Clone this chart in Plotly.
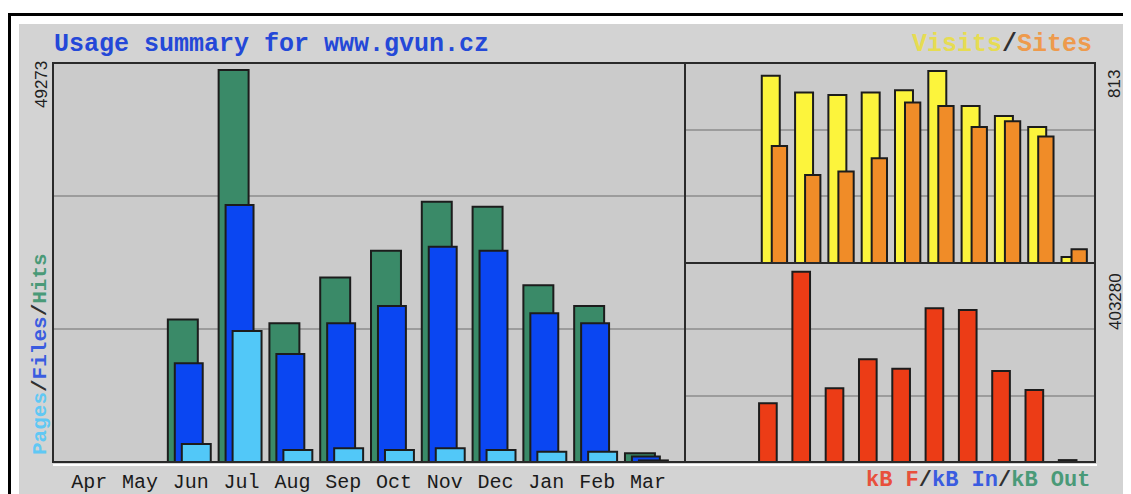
import plotly.graph_objects as go

# page is 1131x494; the html body adds an 8px margin, so the figure is drawn at (8, 8)
PAGE_OFF = 8
FW, FH = 1123, 486

# ---------------- data ----------------
months = ["Apr", "May", "Jun", "Jul", "Aug", "Sep", "Oct", "Nov", "Dec", "Jan", "Feb", "Mar"]
hits = [None, None, 17900, 49273, 17430, 23200, 26560, 32720, 32090, 22210, 19610, 1100]
files = [None, None, 12400, 32300, 13580, 17430, 19610, 27070, 26560, 18690, 17430, 700]
pages = [None, None, 2260, 16470, 1510, 1720, 1510, 1720, 1510, 1300, 1300, 200]
visits = [None, None, 793, 722, 711, 722, 732, 813, 665, 623, 576, 25]
sites = [None, None, 495, 373, 387, 444, 680, 665, 576, 600, 536, 58]
kbytes = [None, None, 124400, 403280, 156100, 217600, 197800, 325600, 322100, 192800, 152600, 4000]

max_hits = 49273
max_visits = 813
max_kb = 403280

title = "Usage summary for www.gvun.cz"

# ---------------- helpers (page pixel -> paper fraction) ----------------
def fx(px):
    return (px - PAGE_OFF) / FW


def fy(py):
    return 1 - (py - PAGE_OFF) / FH


OUT = "#1c1c1c"
C_HITS = "#3a8a68"
C_FILES = "#0a46f2"
C_PAGES = "#52c8f8"
C_VISITS = "#fcf43c"
C_SITES = "#f08c28"
C_KB = "#ec3c16"

fig = go.Figure()

fig.add_trace(go.Bar(x=months, y=hits, xaxis="x", yaxis="y", offset=-0.452, width=0.59,
                     marker=dict(color=C_HITS, line=dict(color=OUT, width=2)), name="Hits"))
fig.add_trace(go.Bar(x=months, y=files, xaxis="x", yaxis="y", offset=-0.315, width=0.55,
                     marker=dict(color=C_FILES, line=dict(color=OUT, width=2)), name="Files"))
fig.add_trace(go.Bar(x=months, y=pages, xaxis="x", yaxis="y", offset=-0.177, width=0.57,
                     marker=dict(color=C_PAGES, line=dict(color=OUT, width=2)), name="Pages"))

fig.add_trace(go.Bar(x=months, y=visits, xaxis="x2", yaxis="y2", offset=-0.375, width=0.54,
                     marker=dict(color=C_VISITS, line=dict(color=OUT, width=2)), name="Visits"))
fig.add_trace(go.Bar(x=months, y=sites, xaxis="x2", yaxis="y2", offset=-0.075, width=0.46,
                     marker=dict(color=C_SITES, line=dict(color=OUT, width=2)), name="Sites"))

fig.add_trace(go.Bar(x=months, y=kbytes, xaxis="x3", yaxis="y3", offset=-0.456, width=0.53,
                     marker=dict(color=C_KB, line=dict(color=OUT, width=2)), name="kB F"))

R1 = max_hits * 399 / 392
R2 = max_visits * 199 / 191
R3 = max_kb * 199 / 190.3

grid = dict(showgrid=True, gridcolor="#9c9c9c", gridwidth=2, zeroline=False,
            showticklabels=False, ticks="", showline=False, fixedrange=True)
xcommon = dict(type="category", showgrid=False, zeroline=False, showline=False, ticks="",
               fixedrange=True)

fig.update_layout(
    width=FW, height=FH,
    margin=dict(l=0, r=0, t=0, b=0),
    paper_bgcolor="white",
    plot_bgcolor="rgba(0,0,0,0)",
    barmode="overlay",
    showlegend=False,
    xaxis=dict(domain=[fx(53), fx(685)], range=[-0.713, 11.73], anchor="y",
               tickfont=dict(family="Liberation Mono", size=20, color="#1a1a1a"),
               ticklabelstandoff=5, **xcommon),
    yaxis=dict(domain=[fy(462), fy(63)], range=[0, R1], anchor="x",
               tickvals=[R1 / 3, 2 * R1 / 3], **grid),
    xaxis2=dict(domain=[fx(685), fx(1095)], range=[-0.68, 11.63], anchor="y2",
                showticklabels=False, **xcommon),
    yaxis2=dict(domain=[fy(263), fy(63)], range=[0, R2], anchor="x2",
                tickvals=[R2 / 3, 2 * R2 / 3], **grid),
    xaxis3=dict(domain=[fx(685), fx(1095)], range=[-0.68, 11.63], anchor="y3",
                showticklabels=False, **xcommon),
    yaxis3=dict(domain=[fy(462), fy(263)], range=[0, R3], anchor="x3",
                tickvals=[R3 / 3, 2 * R3 / 3], **grid),
)

PANEL = "#cbcbcb"
FRAME = "#d3d3d3"
BORDER = "#2a2a2a"
shapes = [
    dict(type="rect", xref="paper", yref="paper", x0=fx(9.5), y0=fy(14.5), x1=fx(1145), y1=fy(510),
         fillcolor="white", line=dict(color="black", width=3), layer="below"),
    dict(type="rect", xref="paper", yref="paper", x0=fx(19), y0=fy(24), x1=fx(1145), y1=fy(510),
         fillcolor=FRAME, line=dict(width=0), layer="below"),
    dict(type="rect", xref="paper", yref="paper", x0=fx(53), y0=fy(63), x1=fx(685), y1=fy(462),
         fillcolor=PANEL, line=dict(width=0), layer="below"),
    dict(type="rect", xref="paper", yref="paper", x0=fx(685), y0=fy(63), x1=fx(1095), y1=fy(462),
         fillcolor=PANEL, line=dict(width=0), layer="below"),
    dict(type="line", xref="paper", yref="paper", x0=fx(53), y0=fy(465), x1=fx(1097), y1=fy(465),
         line=dict(color="white", width=2), layer="below"),
    dict(type="rect", xref="paper", yref="paper", x0=fx(53), y0=fy(63), x1=fx(685), y1=fy(462),
         fillcolor="rgba(0,0,0,0)", line=dict(color=BORDER, width=2), layer="above"),
    dict(type="rect", xref="paper", yref="paper", x0=fx(685), y0=fy(63), x1=fx(1095), y1=fy(263),
         fillcolor="rgba(0,0,0,0)", line=dict(color=BORDER, width=2), layer="above"),
    dict(type="rect", xref="paper", yref="paper", x0=fx(685), y0=fy(263), x1=fx(1095), y1=fy(462),
         fillcolor="rgba(0,0,0,0)", line=dict(color=BORDER, width=2), layer="above"),
]
fig.update_layout(shapes=shapes)

BOLD = dict(family="Liberation Mono", size=25, color="#303030")
anns = [
    dict(x=fx(52), y=fy(44), xanchor="left", yanchor="middle",
         text="<b>" + title + "</b>", font=dict(family="Liberation Mono", size=25, color="#2448d8")),
    dict(x=fx(1094), y=fy(44), xanchor="right", yanchor="middle",
         text="<b><span style='color:#e6dc52'>Visits</span>/<span style='color:#ee9a4c'>Sites</span></b>",
         font=BOLD),
    dict(x=fx(1092), y=fy(480), xanchor="right", yanchor="middle",
         text="<b><span style='color:#e8503c'>kB F</span>/<span style='color:#3a5ce0'>kB In</span>/"
              "<span style='color:#4a9a78'>kB Out</span></b>",
         font=dict(family="Liberation Mono", size=22, color="#303030")),
    dict(x=fx(40), y=fy(354), xanchor="center", yanchor="middle", textangle=-90,
         text="<b><span style='color:#60c8f4'>Pages</span>/<span style='color:#3a5ce0'>Files</span>/"
              "<span style='color:#4a9a78'>Hits</span></b>",
         font=dict(family="Liberation Mono", size=21, color="#303030")),
    dict(x=fx(41), y=fy(85), xanchor="center", yanchor="middle", textangle=-90,
         text=str(max_hits), font=dict(family="Liberation Sans", size=17, color="#202020")),
    dict(x=fx(1115), y=fy(84), xanchor="center", yanchor="middle", textangle=-90,
         text=str(max_visits), font=dict(family="Liberation Sans", size=17, color="#202020")),
    dict(x=fx(1115), y=fy(302), xanchor="center", yanchor="middle", textangle=-90,
         text=str(max_kb), font=dict(family="Liberation Sans", size=17, color="#202020")),
]
for a in anns:
    a.update(xref="paper", yref="paper", showarrow=False)
fig.update_layout(annotations=anns)

fig.write_html("out.html")
